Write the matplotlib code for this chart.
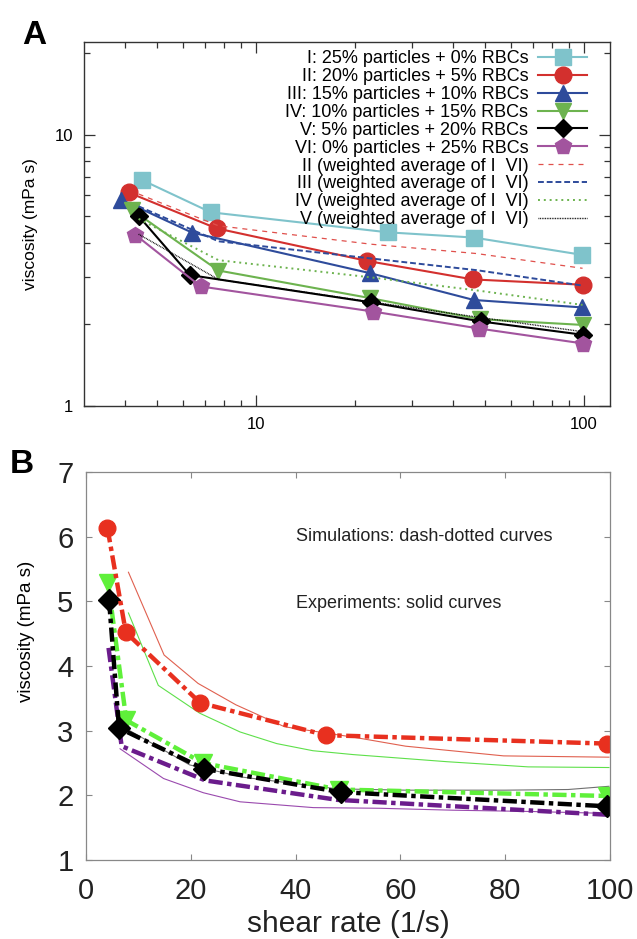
import matplotlib
matplotlib.use("Agg")
import matplotlib.pyplot as plt
from matplotlib.ticker import FixedLocator, NullFormatter, FixedFormatter

plt.rcParams['font.family'] = ['Liberation Sans', 'DejaVu Sans']

# panel A: measured viscosity of the six suspensions (log-log)
xI = [4.5, 7.3, 25.3, 46.2, 98.6]
yI = [6.82, 5.18, 4.37, 4.18, 3.61]
xII = [4.1, 7.6, 21.8, 45.8, 99.5]
yII = [6.13, 4.52, 3.43, 2.93, 2.80]
xIII = [3.9, 6.4, 22.3, 46.2, 98.6]
yIII = [5.76, 4.36, 3.09, 2.46, 2.31]
xIV = [4.2, 7.7, 22.3, 48.2, 99.5]
yIV = [5.29, 3.16, 2.50, 2.09, 1.99]
xV = [4.4, 6.3, 22.5, 48.6, 99.5]
yV = [5.02, 3.04, 2.41, 2.05, 1.83]
xVI = [4.3, 6.8, 22.8, 48.0, 99.5]
yVI = [4.28, 2.76, 2.23, 1.93, 1.70]

# weighted averages of I and VI
x_avg = [4.4, 7.7, 22.5, 47.0, 99.0]
yII_avg = [6.05, 4.62, 3.95, 3.65, 3.22]
yIII_avg = [5.45, 4.05, 3.50, 3.17, 2.78]
yIV_avg = [4.90, 3.45, 2.98, 2.67, 2.36]
yV_avg = [4.30, 2.93, 2.42, 2.13, 1.88]

labels_A = ["I: 25% particles + 0% RBCs",
            "II: 20% particles + 5% RBCs",
            "III: 15% particles + 10% RBCs",
            "IV: 10% particles + 15% RBCs",
            "V: 5% particles + 20% RBCs",
            "VI: 0% particles + 25% RBCs",
            "II (weighted average of I  VI)",
            "III (weighted average of I  VI)",
            "IV (weighted average of I  VI)",
            "V (weighted average of I  VI)"]

# panel B: experiments (thin solid lines)
xexp_red = [8.1, 14.9, 21.4, 28.6, 37.9, 51.0, 61.0, 79.7, 99.8]
yexp_red = [5.45, 4.17, 3.73, 3.40, 3.06, 2.90, 2.76, 2.61, 2.59]
xexp_green = [8.1, 13.8, 21.7, 29.4, 36.4, 43.3, 51.0, 68.9, 84.4, 99.8]
yexp_green = [4.82, 3.70, 3.27, 2.98, 2.80, 2.69, 2.63, 2.52, 2.44, 2.43]
xexp_black = [6.2, 11.6, 19.8, 30.0, 48.0, 61.0, 80.0, 92.0, 99.8]
yexp_black = [3.10, 2.85, 2.47, 2.28, 2.10, 2.08, 2.08, 2.09, 2.14]
xexp_purple = [6.5, 14.8, 22.4, 29.4, 43.4, 56.0, 70.0, 85.0, 99.8]
yexp_purple = [2.72, 2.26, 2.04, 1.90, 1.81, 1.80, 1.77, 1.75, 1.72]

fig = plt.figure(figsize=(6.37, 9.39), dpi=100)
W, H = 637.0, 939.0

# ---------------- panel A ----------------
axA = fig.add_axes([84/W, 1-406/H, (610-84)/W, (406-42)/H])
ms = 12
axA.plot(xI, yI, color='#7fc3cb', lw=1.5, marker='s', ms=ms, label=labels_A[0])
axA.plot(xII, yII, color='#d3302e', lw=1.5, marker='o', ms=ms, label=labels_A[1])
axA.plot(xIII, yIII, color='#2e4b9b', lw=1.5, marker='^', ms=ms, label=labels_A[2])
axA.plot(xIV, yIV, color='#6db34f', lw=1.5, marker='v', ms=ms, label=labels_A[3])
axA.plot(xV, yV, color='black', lw=1.5, marker='D', ms=9.5, label=labels_A[4])
axA.plot(xVI, yVI, color='#a2549e', lw=1.5, marker='p', ms=ms, label=labels_A[5])
axA.plot(x_avg, yII_avg, color='#e0504c', lw=0.9, dashes=(4, 4), label=labels_A[6])
axA.plot(x_avg, yIII_avg, color='#2e4b9b', lw=1.4, dashes=(3, 1.5), label=labels_A[7])
axA.plot(x_avg, yIV_avg, color='#6db34f', lw=1.4, dashes=(1, 2), label=labels_A[8])
axA.plot(x_avg, yV_avg, color='black', lw=1.0, dashes=(0.6, 0.6), label=labels_A[9])

axA.set_xscale('log')
axA.set_yscale('log')
axA.set_xlim(3, 120)
axA.set_ylim(1, 22)
axA.xaxis.set_major_locator(FixedLocator([10, 100]))
axA.xaxis.set_major_formatter(FixedFormatter(['10', '100']))
axA.xaxis.set_minor_locator(FixedLocator([4, 5, 6, 7, 8, 9, 20, 30, 40, 50, 60, 70, 80, 90]))
axA.xaxis.set_minor_formatter(NullFormatter())
axA.yaxis.set_major_locator(FixedLocator([1, 10]))
axA.yaxis.set_major_formatter(FixedFormatter(['1', '10']))
axA.yaxis.set_minor_locator(FixedLocator([2, 3, 4, 5, 6, 7, 8, 9, 20]))
axA.yaxis.set_minor_formatter(NullFormatter())
axA.tick_params(which='both', direction='in', top=True, right=True, labelsize=12,
                color='#333333', width=0.9)
axA.tick_params(which='major', length=8, pad=8)
axA.tick_params(which='minor', length=4)
for s in axA.spines.values():
    s.set_color('#333333')
    s.set_linewidth(1.0)
axA.set_ylabel('viscosity (mPa s)', fontsize=12.5, labelpad=12)

axA.legend(loc='upper right', bbox_to_anchor=(0.965, 0.99), frameon=False,
           markerfirst=False, numpoints=1, fontsize=13, handlelength=2.7,
           handletextpad=0.55, labelspacing=0.05, borderaxespad=0, borderpad=0.25)

fig.text(22/W, 1-44/H, 'A', fontsize=24, fontweight='bold')

# ---------------- panel B ----------------
axB = fig.add_axes([86/W, 1-860/H, (610-86)/W, (860-472)/H])
axB.plot(xexp_red, yexp_red, color='#e0604f', lw=0.8)
axB.plot(xexp_green, yexp_green, color='#5ee04a', lw=0.8)
axB.plot(xexp_black, yexp_black, color='#707070', lw=0.8)
axB.plot(xexp_purple, yexp_purple, color='#9a4aae', lw=0.8)

dd = (3.2, 1.0, 1.0, 1.0)
axB.plot(xVI, yVI, color='#6b1c8c', lw=3.2, dashes=dd)
axB.plot(xIV, yIV, color='#5ff03a', lw=3.2, dashes=dd, marker='v', ms=13,
         mec='#5ff03a')
axB.plot(xV, yV, color='black', lw=3.2, dashes=dd, marker='D', ms=11)
axB.plot(xII, yII, color='#e8301f', lw=3.2, dashes=dd, marker='o', ms=12)

axB.set_xlim(0, 100)
axB.set_ylim(1, 7)
axB.set_xticks([0, 20, 40, 60, 80, 100])
axB.set_yticks([1, 2, 3, 4, 5, 6, 7])
axB.tick_params(direction='in', top=True, right=True, labelsize=21, length=4,
                color='#888888', labelcolor='#222222')
axB.tick_params(axis='x', pad=12)
axB.tick_params(axis='y', pad=9)
for s in axB.spines.values():
    s.set_color('#888888')
    s.set_linewidth(0.9)
axB.set_xlabel('shear rate (1/s)', fontsize=21.5, labelpad=4, color='#222222')
axB.set_ylabel('viscosity (mPa s)', fontsize=13.5)
axB.yaxis.set_label_coords(-0.097, 0.59)

axB.text(40.0, 6.0, 'Simulations: dash-dotted curves', fontsize=13,
         color='#222222', va='center')
axB.text(40.0, 4.97, 'Experiments: solid curves', fontsize=13,
         color='#222222', va='center')

fig.text(10/W, 1-473/H, 'B', fontsize=24, fontweight='bold')

fig.savefig('out.png', dpi=100)
